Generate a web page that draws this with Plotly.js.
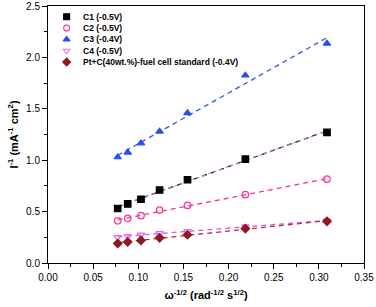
<!DOCTYPE html>
<html><head><meta charset="utf-8">
<script src="https://cdn.plot.ly/plotly-3.0.1.min.js"></script>
<style>html,body{margin:0;padding:0;background:#fff}#chart{width:376px;height:307px}</style>
</head><body><div id="chart"></div>
<script>
// omega^-1/2 values (rad^-1/2 s^1/2)
const omega = [0.0772, 0.0883, 0.103, 0.1236, 0.1545, 0.2186, 0.309];
const seriesNames = ["C1 (-0.5V)", "C2 (-0.5V)", "C3 (-0.4V)", "C4 (-0.5V)", "Pt+C(40wt.%)-fuel cell standard (-0.4V)"];
const c1 = [0.53, 0.575, 0.62, 0.71, 0.81, 1.01, 1.27];
const c2 = [0.41, 0.435, 0.46, 0.515, 0.56, 0.665, 0.815];
const c3 = [1.03, 1.075, 1.165, 1.28, 1.46, 1.825, 2.135];
const c4 = [0.25, 0.26, 0.275, 0.29, 0.31, 0.355, 0.41];
const ptc = [0.19, 0.205, 0.22, 0.245, 0.275, 0.335, 0.405];
const xTicks = [0, 0.05, 0.1, 0.15, 0.2, 0.25, 0.3, 0.35];
const yTicks = [0, 0.5, 1.0, 1.5, 2.0, 2.5];

const allY = [c1, c2, c3, c4, ptc];
const markerColors = ["#000000", "#ff3399", "#2a4df0", "#ee66ee", "#8b1a22"];
const symbols = ["square", "circle-open", "triangle-up", "triangle-down-open", "diamond"];
const lineColors = ["#222233", "#ff3377", "#3355ee", "#dd55dd", "#a8303c"];

function fit(x, y) {
  const n = x.length;
  const mx = x.reduce((a, b) => a + b, 0) / n;
  const my = y.reduce((a, b) => a + b, 0) / n;
  let sxy = 0, sxx = 0;
  for (let i = 0; i < n; i++) { sxy += (x[i] - mx) * (y[i] - my); sxx += (x[i] - mx) ** 2; }
  const b = sxy / sxx, a = my - b * mx;
  return x.map(v => a + b * v);
}

const traces = [];
allY.forEach((y, i) => {
  traces.push({x: omega, y: fit(omega, y), mode: "lines", showlegend: false, hoverinfo: "skip",
    line: {color: lineColors[i], width: 1.3, dash: "5px,4px"}});
  if (i === 0) {
    traces.push({x: omega, y: fit(omega, y), mode: "lines", showlegend: false, hoverinfo: "skip",
      line: {color: "#e27be2", width: 1, dash: "dot"}});
  }
});
allY.forEach((y, i) => {
  traces.push({x: omega, y: y, mode: "markers", name: seriesNames[i], showlegend: false,
    marker: {symbol: symbols[i], size: 6.5, color: markerColors[i], line: {color: markerColors[i], width: 1.2}}});
});

// custom compact legend
const legX = 0.059, legTextX = 0.1035;
const legY = [0.958, 0.914, 0.870, 0.826, 0.782];
seriesNames.forEach((nm, i) => {
  traces.push({x: [legX], y: [legY[i]], xaxis: "x2", yaxis: "y2", mode: "markers", showlegend: false, hoverinfo: "skip",
    marker: {symbol: symbols[i], size: 6, color: markerColors[i], line: {color: markerColors[i], width: 1.1}}});
});
const annotations = seriesNames.map((nm, i) => ({
  xref: "paper", yref: "paper", x: legTextX, y: legY[i], xanchor: "left", yanchor: "middle",
  text: "<b>" + nm + "</b>", showarrow: false, font: {family: "Liberation Sans, Arial", size: 8.5, color: "#000"}
}));

const axFont = {family: "Liberation Sans, Arial", size: 10, color: "#000"};
const layout = {
  width: 376, height: 307,
  margin: {l: 48, r: 12, t: 6, b: 44},
  paper_bgcolor: "#fff", plot_bgcolor: "#fff",
  showlegend: false,
  annotations: annotations,
  xaxis: {range: [0, 0.35], tickvals: xTicks, ticktext: xTicks.map(v => v.toFixed(2)),
    ticks: "outside", ticklen: 5, tickwidth: 1, tickcolor: "#000",
    minor: {dtick: 0.025, tick0: 0, ticks: "outside", ticklen: 3, tickcolor: "#000", showgrid: false},
    showline: true, linecolor: "#000", linewidth: 1, mirror: true, showgrid: false, zeroline: false,
    tickfont: axFont,
    title: {text: "<b>ω<sup>-1/2</sup> (rad<sup>-1/2</sup> s<sup>1/2</sup>)</b>", font: {family: "Liberation Sans, Arial", size: 11, color: "#000"}, standoff: 9}},
  yaxis: {range: [0, 2.5], tickvals: yTicks, ticktext: yTicks.map(v => v.toFixed(1)),
    ticks: "outside", ticklen: 5, tickwidth: 1, tickcolor: "#000",
    minor: {dtick: 0.25, tick0: 0, ticks: "outside", ticklen: 3, tickcolor: "#000", showgrid: false},
    showline: true, linecolor: "#000", linewidth: 1, mirror: true, showgrid: false, zeroline: false,
    tickfont: axFont,
    title: {text: "<b>I<sup>-1</sup> (mA<sup>-1</sup> cm<sup>2</sup>)</b>", font: {family: "Liberation Sans, Arial", size: 11, color: "#000"}, standoff: 5}},
  xaxis2: {domain: [0, 1], range: [0, 1], visible: false, overlaying: "x", anchor: "y2"},
  yaxis2: {domain: [0, 1], range: [0, 1], visible: false, overlaying: "y", anchor: "x2"}
};
Plotly.newPlot("chart", traces, layout, {displayModeBar: false, staticPlot: true});
</script></body></html>
